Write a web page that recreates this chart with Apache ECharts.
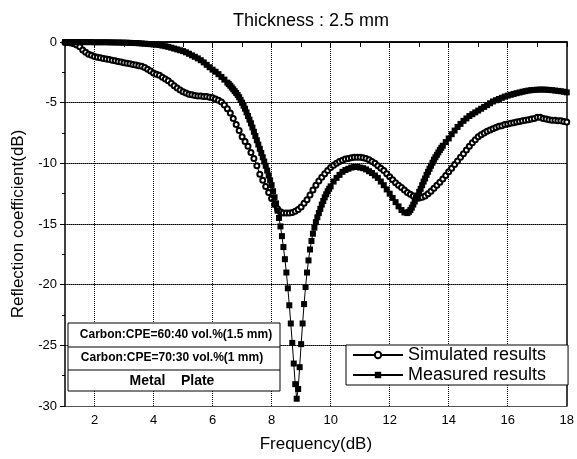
<!DOCTYPE html>
<html><head><meta charset="utf-8">
<script src="https://cdn.jsdelivr.net/npm/echarts@6/dist/echarts.min.js"></script>
<style>html,body{margin:0;padding:0;background:#fff}#c{width:577px;height:459px}</style>
</head><body><div id="c"></div>
<script>
const titleText = 'Thickness : 2.5 mm';
const xName = 'Frequency(dB)';
const yName = 'Reflection coefficient(dB)';
const seriesNames = ['Simulated results', 'Measured results'];
const layerLabels = ['Carbon:CPE=60:40 vol.%(1.5 mm)', 'Carbon:CPE=70:30 vol.%(1 mm)', 'Metal    Plate'];
const xGridValues = [2, 4, 6, 8, 10, 12, 14, 16];
const yGridValues = [-5, -10, -15, -20, -25];

const freqSim = [
1.0,1.1,1.2,1.3,1.4,1.5,1.6,1.7,1.8,1.9,
2.0,2.1,2.2,2.3,2.4,2.5,2.6,2.7,2.8,2.9,
3.0,3.1,3.2,3.3,3.4,3.5,3.6,3.7,3.8,3.9,
4.0,4.1,4.2,4.3,4.4,4.5,4.6,4.7,4.8,4.9,
5.0,5.1,5.2,5.3,5.4,5.5,5.6,5.7,5.8,5.9,
6.0,6.1,6.2,6.3,6.4,6.5,6.6,6.7,6.8,6.9,
7.0,7.1,7.2,7.3,7.4,7.5,7.6,7.7,7.8,7.9,
8.0,8.1,8.2,8.3,8.4,8.5,8.6,8.7,8.8,8.9,
9.0,9.1,9.2,9.3,9.4,9.5,9.6,9.7,9.8,9.9,
10.0,10.1,10.2,10.3,10.4,10.5,10.6,10.7,10.8,10.9,
11.0,11.1,11.2,11.3,11.4,11.5,11.6,11.7,11.8,11.9,
12.0,12.1,12.2,12.3,12.4,12.5,12.6,12.7,12.8,12.9,
13.0,13.1,13.2,13.3,13.4,13.5,13.6,13.7,13.8,13.9,
14.0,14.1,14.2,14.3,14.4,14.5,14.6,14.7,14.8,14.9,
15.0,15.1,15.2,15.3,15.4,15.5,15.6,15.7,15.8,15.9,
16.0,16.1,16.2,16.3,16.4,16.5,16.6,16.7,16.8,16.9,
17.0,17.1,17.2,17.3,17.4,17.5,17.6,17.7,17.8,17.9,
18.0];
const simulated = [
-0.05,-0.05,-0.08,-0.15,-0.25,-0.4,-0.65,-0.85,-1.0,-1.1,
-1.2,-1.25,-1.3,-1.35,-1.4,-1.45,-1.5,-1.55,-1.6,-1.65,
-1.7,-1.75,-1.8,-1.85,-1.9,-1.95,-2.0,-2.1,-2.25,-2.4,
-2.55,-2.65,-2.75,-2.9,-3.05,-3.2,-3.4,-3.6,-3.8,-3.95,
-4.1,-4.2,-4.3,-4.35,-4.4,-4.45,-4.45,-4.5,-4.5,-4.55,
-4.6,-4.7,-4.8,-4.95,-5.2,-5.5,-5.85,-6.3,-6.8,-7.3,
-7.8,-8.2,-8.6,-9.1,-9.6,-10.2,-10.9,-11.4,-11.9,-12.4,
-12.9,-13.4,-13.75,-14.0,-14.1,-14.1,-14.1,-14.05,-13.95,-13.8,
-13.6,-13.3,-13.0,-12.6,-12.2,-11.8,-11.45,-11.15,-10.85,-10.6,
-10.35,-10.15,-10.0,-9.85,-9.75,-9.65,-9.6,-9.55,-9.5,-9.5,
-9.5,-9.55,-9.6,-9.7,-9.85,-10.0,-10.2,-10.4,-10.6,-10.85,
-11.1,-11.35,-11.6,-11.8,-12.0,-12.2,-12.4,-12.55,-12.7,-12.8,
-12.85,-12.8,-12.7,-12.5,-12.3,-12.05,-11.8,-11.55,-11.3,-11.0,
-10.7,-10.4,-10.1,-9.8,-9.5,-9.2,-8.9,-8.6,-8.3,-8.05,
-7.8,-7.65,-7.5,-7.35,-7.25,-7.15,-7.05,-6.95,-6.9,-6.8,
-6.75,-6.7,-6.65,-6.6,-6.55,-6.5,-6.45,-6.4,-6.35,-6.3,
-6.2,-6.2,-6.3,-6.35,-6.4,-6.45,-6.45,-6.5,-6.5,-6.55,
-6.6];

const freqMeas = [
1.0,1.1,1.2,1.3,1.4,1.5,1.6,1.7,1.8,1.9,
2.0,2.1,2.2,2.3,2.4,2.5,2.6,2.7,2.8,2.9,
3.0,3.1,3.2,3.3,3.4,3.5,3.6,3.7,3.8,3.9,
4.0,4.1,4.2,4.3,4.4,4.5,4.6,4.7,4.8,4.9,
5.0,5.1,5.2,5.3,5.4,5.5,5.6,5.7,5.8,5.9,
6.0,6.1,6.2,6.3,6.4,
6.5,6.55,6.6,6.65,6.7,6.75,6.8,6.85,6.9,6.95,
7.0,7.05,7.1,7.15,7.2,7.25,7.3,7.35,7.4,7.45,
7.5,7.55,7.6,7.65,7.7,7.75,7.8,7.85,7.9,7.95,8.0,
8.05,8.1,8.15,8.2,8.25,8.3,8.35,8.4,8.45,8.5,
8.55,8.6,8.65,8.7,8.75,8.8,8.85,8.9,8.95,9.0,
9.05,9.1,9.15,9.2,9.25,9.3,9.35,9.4,9.45,9.5,
9.55,9.6,9.65,9.7,9.75,9.8,9.85,9.9,9.95,10.0,
10.1,10.2,10.3,10.4,10.5,10.6,10.7,10.8,10.9,
11.0,11.1,11.2,11.3,11.4,11.5,11.6,11.7,11.8,11.9,
12.0,12.1,12.2,12.3,12.4,12.5,12.6,
12.65,12.7,12.75,12.8,12.85,12.9,12.95,13.0,13.05,13.1,
13.15,13.2,13.25,13.3,13.35,13.4,13.45,13.5,13.55,13.6,
13.65,13.7,13.75,13.8,
13.9,
14.0,14.1,14.2,14.3,14.4,14.5,14.6,14.7,14.8,14.9,
15.0,15.1,15.2,15.3,15.4,15.5,15.6,15.7,15.8,15.9,
16.0,16.1,16.2,16.3,16.4,16.5,16.6,16.7,16.8,16.9,
17.0,17.1,17.2,17.3,17.4,17.5,17.6,17.7,17.8,17.9,
18.0];
const measured = [
0,0,0,0,0,0,-0.01,-0.01,-0.01,-0.01,
-0.02,-0.02,-0.02,-0.02,-0.02,-0.03,-0.03,-0.04,-0.04,-0.05,
-0.05,-0.06,-0.07,-0.08,-0.09,-0.1,-0.12,-0.14,-0.16,-0.18,
-0.2,-0.22,-0.25,-0.3,-0.35,-0.4,-0.47,-0.54,-0.61,-0.68,
-0.75,-0.85,-0.97,-1.1,-1.22,-1.35,-1.5,-1.68,-1.88,-2.08,
-2.28,-2.45,-2.65,-2.88,-3.1,
-3.35,-3.47,-3.6,-3.75,-3.9,-4.05,-4.2,-4.37,-4.55,-4.77,
-5.0,-5.25,-5.5,-5.8,-6.1,-6.4,-6.7,-7.05,-7.4,-7.75,
-8.1,-8.45,-8.8,-9.15,-9.5,-9.85,-10.2,-10.6,-11.0,-11.4,-11.8,
-12.3,-12.8,-13.3,-13.9,-14.5,-15.2,-16.0,-16.9,-17.9,-19.0,
-20.3,-21.7,-23.2,-24.8,-26.5,-28.2,-29.4,-28.6,-26.8,-24.9,
-23.2,-21.6,-20.2,-19.0,-18.0,-17.1,-16.4,-15.8,-15.3,-14.85,
-14.45,-14.1,-13.75,-13.4,-13.1,-12.8,-12.55,-12.3,-12.1,-11.9,
-11.5,-11.2,-10.95,-10.7,-10.55,-10.45,-10.35,-10.3,-10.3,
-10.35,-10.4,-10.5,-10.65,-10.8,-11.0,-11.2,-11.5,-11.8,-12.15,
-12.5,-12.85,-13.2,-13.55,-13.85,-14.05,-14.1,
-14.0,-13.85,-13.65,-13.4,-13.15,-12.9,-12.65,-12.35,-12.1,-11.8,
-11.5,-11.25,-10.95,-10.7,-10.45,-10.2,-9.95,-9.7,-9.5,-9.3,
-9.1,-8.9,-8.72,-8.55,
-8.25,
-7.95,-7.6,-7.3,-7.0,-6.75,-6.5,-6.3,-6.1,-5.95,-5.8,
-5.65,-5.5,-5.35,-5.2,-5.05,-4.9,-4.8,-4.7,-4.6,-4.5,
-4.42,-4.35,-4.28,-4.22,-4.16,-4.1,-4.05,-4.0,-3.97,-3.95,
-3.93,-3.92,-3.92,-3.93,-3.95,-3.97,-4.0,-4.03,-4.06,-4.1,
-4.15];

const FONT = '"Liberation Sans", Arial, sans-serif';
const frameLine = { show: true, lineStyle: { color: '#000', width: 1.5 } };

const chart = echarts.init(document.getElementById('c'), null, { renderer: 'canvas' });
chart.setOption({
  animation: false,
  backgroundColor: '#fff',
  textStyle: { fontFamily: FONT, color: '#000' },
  title: {
    text: titleText, left: 228, top: 7,
    textStyle: { fontSize: 18, fontWeight: 'normal', color: '#000', fontFamily: FONT }
  },
  grid: { left: 65, right: 9, top: 42, bottom: 53 },
  xAxis: [{
    type: 'value', min: 1, max: 18, interval: 1, position: 'bottom',
    name: xName, nameLocation: 'middle', nameGap: 30,
    nameTextStyle: { fontSize: 17, color: '#000', fontFamily: FONT },
    axisLine: frameLine,
    axisTick: { show: true, length: 5, lineStyle: { color: '#000' } },
    axisLabel: { formatter: v => (v % 2 === 0 ? String(v) : ''), color: '#000', fontSize: 13, margin: 8, fontFamily: FONT },
    splitLine: { show: false }
  }, {
    type: 'value', min: 1, max: 18, interval: 1, position: 'top',
    axisLine: frameLine, axisTick: { show: false }, axisLabel: { show: false }, splitLine: { show: false }
  }],
  yAxis: [{
    type: 'value', min: -30, max: 0, interval: 5, position: 'left',
    name: yName, nameLocation: 'middle', nameGap: 38,
    nameTextStyle: { fontSize: 17, color: '#000', fontFamily: FONT },
    axisLine: frameLine,
    axisTick: { show: true, length: 5, lineStyle: { color: '#000' } },
    minorTick: { show: true, splitNumber: 2, length: 3, lineStyle: { color: '#000' } },
    axisLabel: { color: '#000', fontSize: 13, margin: 8, fontFamily: FONT },
    splitLine: { show: true, lineStyle: { color: '#555', width: 1, type: 'solid' } }
  }, {
    type: 'value', min: -30, max: 0, interval: 5, position: 'right',
    axisLine: frameLine, axisTick: { show: false }, axisLabel: { show: false }, splitLine: { show: false }
  }],
  legend: {
    left: 346, top: 345, orient: 'vertical',
    data: seriesNames,
    itemWidth: 50, itemHeight: 8, itemGap: 2,
    borderColor: '#000', borderWidth: 1, padding: [1, 22, 1, 6],
    backgroundColor: '#fff',
    textStyle: { fontSize: 18, color: '#000', fontFamily: FONT },
    z: 10
  },
  series: [
    {
      name: 'gridlines', type: 'line', z: 1, silent: true,
      data: [[1, 0]], symbol: 'none', lineStyle: { opacity: 0 },
      markLine: {
        silent: true, symbol: 'none', label: { show: false }, animation: false,
        lineStyle: { color: '#000', width: 1, type: 'dotted', opacity: 1 },
        data: xGridValues.map(v => ({ xAxis: v }))
      }
    },
    {
      name: 'gridlinesY', type: 'line', z: 1, silent: true,
      data: [[1, 0]], symbol: 'none', lineStyle: { opacity: 0 },
      markLine: {
        silent: true, symbol: 'none', label: { show: false }, animation: false,
        lineStyle: { color: '#000', width: 1, type: 'dotted', opacity: 1 },
        data: yGridValues.map(v => ({ yAxis: v }))
      }
    },
    {
      name: seriesNames[0], type: 'line', z: 2,
      data: freqSim.map((f, i) => [f, simulated[i]]),
      symbol: 'emptyCircle', symbolSize: 5, showAllSymbol: true,
      lineStyle: { color: '#000', width: 1 },
      itemStyle: { color: '#000', borderWidth: 1 }
    },
    {
      name: seriesNames[1], type: 'line', z: 3,
      data: freqMeas.map((f, i) => [f, measured[i]]),
      symbol: 'rect', symbolSize: 6, showAllSymbol: true,
      lineStyle: { color: '#000', width: 1 },
      itemStyle: { color: '#000' }
    }
  ],
  graphic: [
    { type: 'rect', z: 100, shape: { x: 68, y: 323, width: 212, height: 68 }, style: { fill: '#fff', stroke: '#000', lineWidth: 1 } },
    { type: 'line', z: 101, shape: { x1: 68, y1: 347, x2: 280, y2: 347 }, style: { stroke: '#000', lineWidth: 1 } },
    { type: 'line', z: 101, shape: { x1: 68, y1: 370, x2: 280, y2: 370 }, style: { stroke: '#000', lineWidth: 1 } },
    { type: 'text', z: 102, style: { text: layerLabels[0], x: 176, y: 335, textAlign: 'center', textVerticalAlign: 'middle', font: 'bold 12px ' + FONT, fill: '#000' } },
    { type: 'text', z: 102, style: { text: layerLabels[1], x: 172, y: 358, textAlign: 'center', textVerticalAlign: 'middle', font: 'bold 12px ' + FONT, fill: '#000' } },
    { type: 'text', z: 102, style: { text: layerLabels[2], x: 172, y: 381, textAlign: 'center', textVerticalAlign: 'middle', font: 'bold 14px ' + FONT, fill: '#000' } }
  ]
});
</script>
</body></html>
